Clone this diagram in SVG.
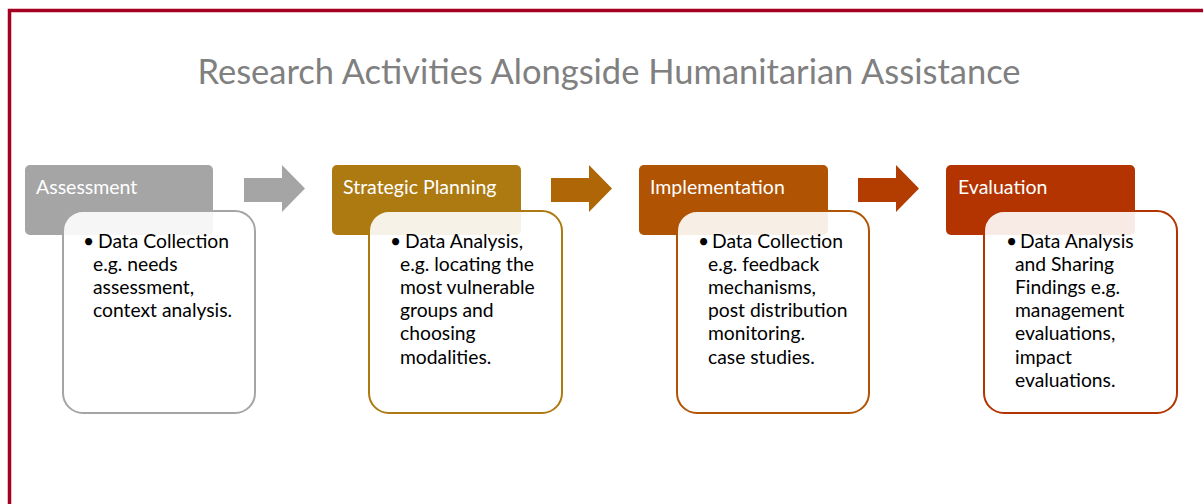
<svg xmlns="http://www.w3.org/2000/svg" width="1203" height="504" viewBox="0 0 1203 504">
<defs>
<style>
.title{font-family:Lato,"Open Sans","Liberation Sans",sans-serif;font-size:34.5px;fill:#808080}
.hd{font-family:Lato,"Open Sans","Liberation Sans",sans-serif;font-size:19.5px;fill:#ffffff}
.bd{font-family:Lato,"Open Sans","Liberation Sans",sans-serif;font-size:19.3px;fill:#000000}
.card{fill:#ffffff;fill-opacity:0.9;stroke-width:2}
</style>
</defs>
<rect x="0" y="0" width="1203" height="504" fill="#ffffff"/>
<path d="M9.5 504 V10.5 H1203" fill="none" stroke="#A50021" stroke-width="3.5"/>
<text class="title" x="609" y="84" text-anchor="middle">Research Activities Alongside Humanitarian Assistance</text>

<g id="connectors">
<polygon points="244,178 282,178 282,165 305,188.5 282,212 282,202 244,202" fill="#A5A5A5"/>
<polygon points="551,178 589,178 589,165 612,188.5 589,212 589,202 551,202" fill="#AE6607"/>
<polygon points="858,178 896,178 896,165 919,188.5 896,212 896,202 858,202" fill="#B33C00"/>
</g>

<g id="assessment">
<rect x="25" y="165" width="188" height="70" rx="5" fill="#A5A5A5"/>
<text class="hd" x="36" y="194">Assessment</text>
<rect class="card" x="63" y="211" width="192" height="202" rx="20" stroke="#A5A5A5"/>
<text class="bd"><tspan x="83" y="248">•</tspan><tspan x="98" y="248">Data Collection</tspan><tspan x="93" y="271">e.g. needs</tspan><tspan x="93" y="294">assessment,</tspan><tspan x="93" y="317">context analysis.</tspan></text>
</g>

<g id="strategic-planning">
<rect x="332" y="165" width="189" height="70" rx="5" fill="#AD7A12"/>
<text class="hd" x="343" y="194">Strategic Planning</text>
<rect class="card" x="369" y="211" width="193" height="202" rx="20" stroke="#AD7A12"/>
<text class="bd"><tspan x="390" y="248">•</tspan><tspan x="405" y="248">Data Analysis,</tspan><tspan x="400" y="271">e.g. locating the</tspan><tspan x="400" y="294">most vulnerable</tspan><tspan x="400" y="317">groups and</tspan><tspan x="400" y="340">choosing</tspan><tspan x="400" y="364">modalities.</tspan></text>
</g>

<g id="implementation">
<rect x="639" y="165" width="189" height="70" rx="5" fill="#B05302"/>
<text class="hd" x="650" y="194">Implementation</text>
<rect class="card" x="677" y="211" width="192" height="202" rx="20" stroke="#B05302"/>
<text class="bd"><tspan x="698" y="248">•</tspan><tspan x="712" y="248">Data Collection</tspan><tspan x="708" y="271">e.g. feedback</tspan><tspan x="708" y="294">mechanisms,</tspan><tspan x="708" y="317">post distribution</tspan><tspan x="708" y="340">monitoring.</tspan><tspan x="708" y="364">case studies.</tspan></text>
</g>

<g id="evaluation">
<rect x="946" y="165" width="189" height="70" rx="5" fill="#B33400"/>
<text class="hd" x="958" y="194">Evaluation</text>
<rect class="card" x="984" y="211" width="193" height="202" rx="20" stroke="#B33400"/>
<text class="bd"><tspan x="1006" y="248">•</tspan><tspan x="1020" y="248">Data Analysis</tspan><tspan x="1015" y="271">and Sharing</tspan><tspan x="1015" y="294">Findings e.g.</tspan><tspan x="1015" y="317">management</tspan><tspan x="1015" y="340">evaluations,</tspan><tspan x="1015" y="364">impact</tspan><tspan x="1015" y="387">evaluations.</tspan></text>
</g>
</svg>
